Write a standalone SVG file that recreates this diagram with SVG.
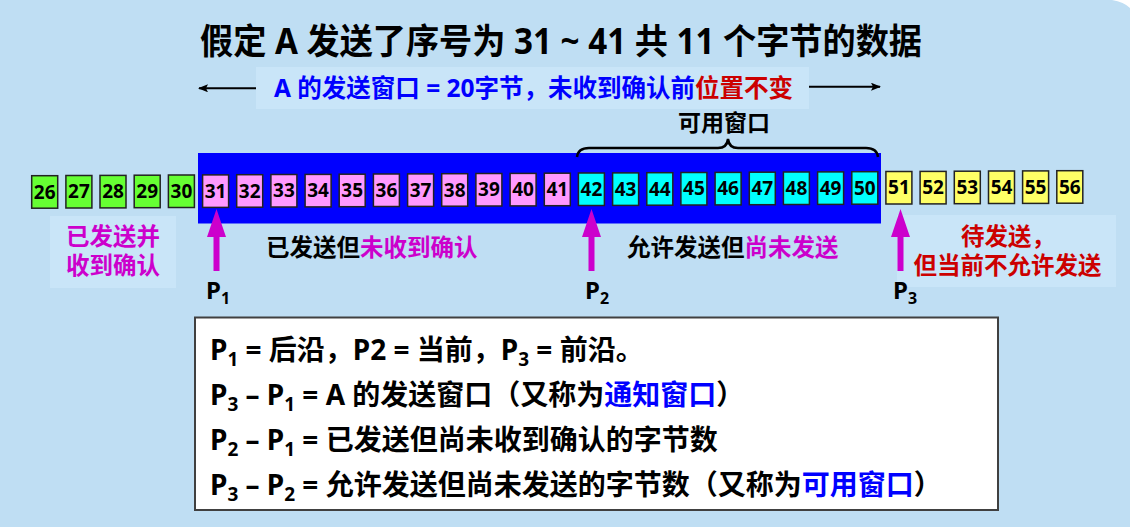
<svg xmlns="http://www.w3.org/2000/svg" width="1130" height="527" viewBox="0 0 1130 527">
<style>
text{font-family:'Noto Sans','Noto Sans CJK SC',sans-serif;font-weight:bold}
.n{font-size:19px;text-anchor:middle;fill:#000}
.bx{stroke:#222;stroke-width:1.5}
.g{fill:#66FF33}.p{fill:#FF99FF}.c{fill:#00FFFF}.y{fill:#FFFF66}
.mg{fill:#CC00CC}.rd{fill:#CC0000}.bl{fill:#0000FF}.bk{fill:#000}
.lab{font-size:23.5px}
.pl{font-size:24px;fill:#000}
.sb{font-size:16px}
.pa{fill:#CC00CC}
.ln{font-size:28px;fill:#000}
.lt{fill:#C9E5F8}
</style>
<defs>
<marker id="ah" viewBox="0 0 10 8" refX="9" refY="4" markerWidth="10" markerHeight="8" markerUnits="userSpaceOnUse" orient="auto">
<path d="M0,0 L10,4 L0,8 L2,4 Z" fill="#000"/>
</marker>
</defs>
<rect width="1130" height="527" fill="#BFDEF3"/>
<path d="M1112,0 Q1124,2 1130,8 L1130,0 Z" fill="#FFFFFF"/>

<g id="title"><text x="200" y="54" font-size="35" textLength="722" lengthAdjust="spacingAndGlyphs" fill="#000">假定 A 发送了序号为 31 ~ 41 共 11 个字节的数据</text></g>

<g id="window-label">
<rect class="lt" x="256" y="67" width="553" height="42"/>
<text x="274" y="97" font-size="24.5" class="bl">A 的发送窗口 = 20字节，未收到确认前<tspan class="rd">位置不变</tspan></text>
</g>

<g id="avail-label">
<text x="724" y="131" font-size="23" text-anchor="middle" fill="#000">可用窗口</text>
</g>

<g id="send-window"><rect x="198" y="153" width="683" height="70.5" fill="#0000FF"/></g>

<g id="b26"><rect class="bx g" x="31.7" y="175.7" width="26" height="32.5"/><text class="n" x="44.7" y="198.6">26</text></g>
<g id="b27"><rect class="bx g" x="65.9" y="175.5" width="26" height="32.5"/><text class="n" x="78.9" y="198.4">27</text></g>
<g id="b28"><rect class="bx g" x="100.0" y="175.4" width="26" height="32.5"/><text class="n" x="113.0" y="198.3">28</text></g>
<g id="b29"><rect class="bx g" x="134.2" y="175.2" width="26" height="32.5"/><text class="n" x="147.2" y="198.1">29</text></g>
<g id="b30"><rect class="bx g" x="168.4" y="175.0" width="26" height="32.5"/><text class="n" x="181.4" y="197.9">30</text></g>
<g id="b31"><rect class="bx p" x="202.6" y="174.9" width="26" height="32.5"/><text class="n" x="215.6" y="197.8">31</text></g>
<g id="b32"><rect class="bx p" x="236.7" y="174.7" width="26" height="32.5"/><text class="n" x="249.7" y="197.6">32</text></g>
<g id="b33"><rect class="bx p" x="270.9" y="174.5" width="26" height="32.5"/><text class="n" x="283.9" y="197.4">33</text></g>
<g id="b34"><rect class="bx p" x="305.1" y="174.4" width="26" height="32.5"/><text class="n" x="318.1" y="197.3">34</text></g>
<g id="b35"><rect class="bx p" x="339.2" y="174.2" width="26" height="32.5"/><text class="n" x="352.2" y="197.1">35</text></g>
<g id="b36"><rect class="bx p" x="373.4" y="174.0" width="26" height="32.5"/><text class="n" x="386.4" y="196.9">36</text></g>
<g id="b37"><rect class="bx p" x="407.6" y="173.9" width="26" height="32.5"/><text class="n" x="420.6" y="196.8">37</text></g>
<g id="b38"><rect class="bx p" x="441.7" y="173.7" width="26" height="32.5"/><text class="n" x="454.7" y="196.6">38</text></g>
<g id="b39"><rect class="bx p" x="475.9" y="173.5" width="26" height="32.5"/><text class="n" x="488.9" y="196.4">39</text></g>
<g id="b40"><rect class="bx p" x="510.1" y="173.4" width="26" height="32.5"/><text class="n" x="523.1" y="196.3">40</text></g>
<g id="b41"><rect class="bx p" x="544.3" y="173.2" width="26" height="32.5"/><text class="n" x="557.3" y="196.1">41</text></g>
<g id="b42"><rect class="bx c" x="578.4" y="173.0" width="26" height="32.5"/><text class="n" x="591.4" y="195.9">42</text></g>
<g id="b43"><rect class="bx c" x="612.6" y="172.9" width="26" height="32.5"/><text class="n" x="625.6" y="195.8">43</text></g>
<g id="b44"><rect class="bx c" x="646.8" y="172.7" width="26" height="32.5"/><text class="n" x="659.8" y="195.6">44</text></g>
<g id="b45"><rect class="bx c" x="680.9" y="172.5" width="26" height="32.5"/><text class="n" x="693.9" y="195.4">45</text></g>
<g id="b46"><rect class="bx c" x="715.1" y="172.4" width="26" height="32.5"/><text class="n" x="728.1" y="195.3">46</text></g>
<g id="b47"><rect class="bx c" x="749.3" y="172.2" width="26" height="32.5"/><text class="n" x="762.3" y="195.1">47</text></g>
<g id="b48"><rect class="bx c" x="783.4" y="172.0" width="26" height="32.5"/><text class="n" x="796.4" y="194.9">48</text></g>
<g id="b49"><rect class="bx c" x="817.6" y="171.9" width="26" height="32.5"/><text class="n" x="830.6" y="194.8">49</text></g>
<g id="b50"><rect class="bx c" x="851.8" y="171.7" width="26" height="32.5"/><text class="n" x="864.8" y="194.6">50</text></g>
<g id="b51"><rect class="bx y" x="885.9" y="171.5" width="26" height="32.5"/><text class="n" x="898.9" y="194.4">51</text></g>
<g id="b52"><rect class="bx y" x="920.1" y="171.4" width="26" height="32.5"/><text class="n" x="933.1" y="194.3">52</text></g>
<g id="b53"><rect class="bx y" x="954.3" y="171.2" width="26" height="32.5"/><text class="n" x="967.3" y="194.1">53</text></g>
<g id="b54"><rect class="bx y" x="988.5" y="171.0" width="26" height="32.5"/><text class="n" x="1001.5" y="193.9">54</text></g>
<g id="b55"><rect class="bx y" x="1022.6" y="170.9" width="26" height="32.5"/><text class="n" x="1035.6" y="193.8">55</text></g>
<g id="b56"><rect class="bx y" x="1056.8" y="170.7" width="26" height="32.5"/><text class="n" x="1069.8" y="193.6">56</text></g>

<g id="acked">
<rect class="lt" x="50" y="216" width="126" height="72"/>
<text class="lab mg" x="113" y="245" text-anchor="middle">已发送并</text>
<text class="lab mg" x="113" y="274" text-anchor="middle">收到确认</text>
</g>
<g id="sent-unacked">
<text class="lab bk" x="266" y="256">已发送但<tspan class="mg">未收到确认</tspan></text>
</g>
<g id="allowed">
<text class="lab bk" x="627" y="256">允许发送但<tspan class="mg">尚未发送</tspan></text>
</g>
<g id="not-allowed">
<rect class="lt" x="897" y="215" width="219" height="72"/>
<text class="lab rd" x="961" y="245">待发送，</text>
<text class="lab rd" x="1007.5" y="274" text-anchor="middle">但当前不允许发送</text>
</g>

<g id="connectors">
<line x1="256" y1="88.3" x2="199" y2="88.3" stroke="#000" stroke-width="2" marker-end="url(#ah)"/>
<line x1="809" y1="86.7" x2="880" y2="86.7" stroke="#000" stroke-width="2" marker-end="url(#ah)"/>
<path d="M577,157 Q578,148 589,148 L718,148 Q727,148 728,139 Q729,148 738,148 L866,148 Q877,148 878,157" fill="none" stroke="#000" stroke-width="2.5"/>
<path class="pa" d="M216.5,209 L226,237 L219.5,237 L219.5,271 L213.5,271 L213.5,237 L207,237 Z"/>
<path class="pa" d="M591.5,209 L601,237 L594.5,237 L594.5,271 L588.5,271 L588.5,237 L582,237 Z"/>
<path class="pa" d="M900.5,209 L910,237 L903.5,237 L903.5,271 L897.5,271 L897.5,237 L891,237 Z"/>
</g>

<g id="p1"><text class="pl" x="206" y="299">P<tspan class="sb" dy="5">1</tspan></text></g>
<g id="p2"><text class="pl" x="585" y="299">P<tspan class="sb" dy="5">2</tspan></text></g>
<g id="p3"><text class="pl" x="893" y="299">P<tspan class="sb" dy="5">3</tspan></text></g>

<g id="legend">
<rect x="195" y="317.5" width="803" height="192.5" fill="#FFFFFF" stroke="#404040" stroke-width="2"/>
<text class="ln" x="210" y="360">P<tspan font-size="19" dy="6">1</tspan><tspan dy="-6"> = 后沿，P2 = 当前，P</tspan><tspan font-size="19" dy="6">3</tspan><tspan dy="-6"> = 前沿。</tspan></text>
<text class="ln" x="210" y="405">P<tspan font-size="19" dy="6">3</tspan><tspan dy="-6"> – P</tspan><tspan font-size="19" dy="6">1</tspan><tspan dy="-6"> = A 的发送窗口（又称为</tspan><tspan class="bl">通知窗口</tspan>）</text>
<text class="ln" x="210" y="450">P<tspan font-size="19" dy="6">2</tspan><tspan dy="-6"> – P</tspan><tspan font-size="19" dy="6">1</tspan><tspan dy="-6"> = 已发送但尚未收到确认的字节数</tspan></text>
<text class="ln" x="210" y="495">P<tspan font-size="19" dy="6">3</tspan><tspan dy="-6"> – P</tspan><tspan font-size="19" dy="6">2</tspan><tspan dy="-6"> = 允许发送但尚未发送的字节数（又称为</tspan><tspan class="bl">可用窗口</tspan>）</text>
</g>
</svg>
